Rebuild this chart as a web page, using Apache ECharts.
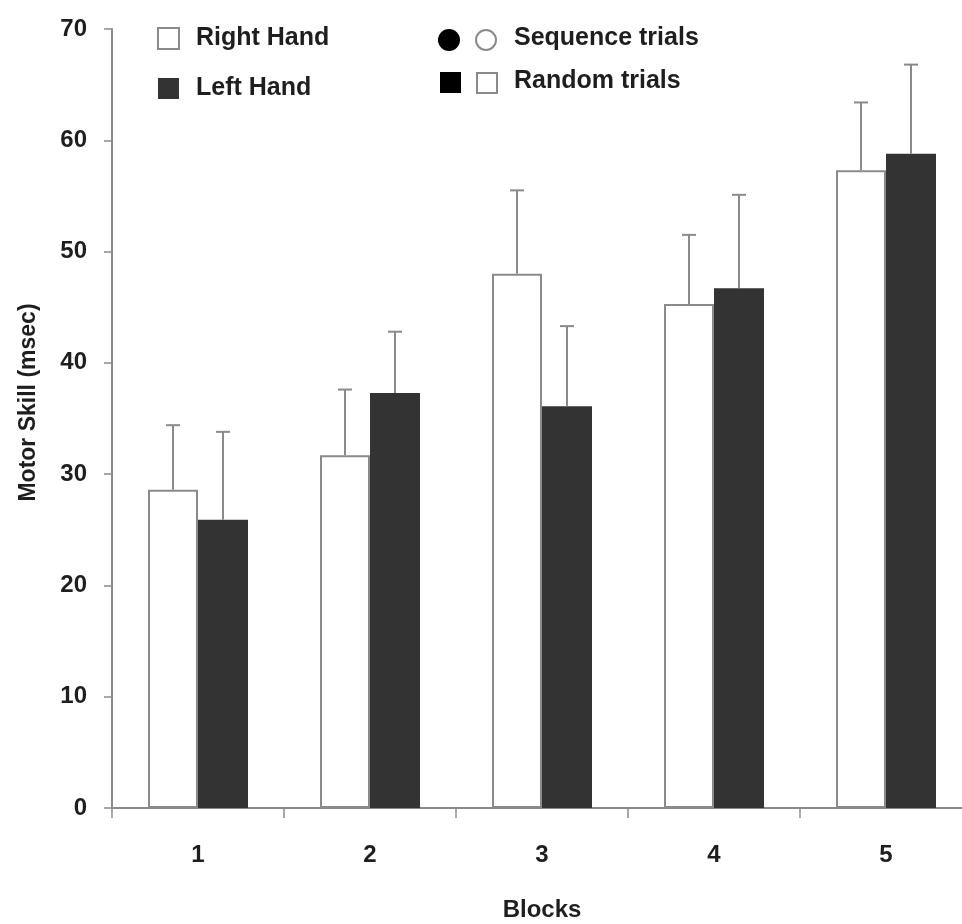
<!DOCTYPE html>
<html>
<head>
<meta charset="utf-8">
<script src="https://cdn.jsdelivr.net/npm/echarts@6/dist/echarts.min.js"></script>
<style>html,body{margin:0;padding:0;background:#fff}#c{width:962px;height:924px}</style>
</head>
<body>
<div id="c"></div>
<script>
const categories = ['1', '2', '3', '4', '5'];
const rightHand = [28.6, 31.7, 48.0, 45.3, 57.3];
const rightHandUpper = [34.4, 37.6, 55.5, 51.5, 63.4];
const leftHand = [25.9, 37.3, 36.1, 46.7, 58.8];
const leftHandUpper = [33.8, 42.8, 43.3, 55.1, 66.8];
const yTicks = [0, 10, 20, 30, 40, 50, 60, 70];

const FONT = "'Liberation Sans', Arial, sans-serif";
const TXT = '#1e1e1e';
const GRAY = '#8a8a8a';
const BAR_W = 50;

const chart = echarts.init(document.getElementById('c'), null, {renderer: 'canvas'});

function errSeries(name, means, uppers, side) {
  return {
    type: 'custom',
    name: name + ' err',
    z: 5,
    silent: true,
    data: means.map((m, i) => [i, m, uppers[i]]),
    renderItem: function (params, api) {
      const c = api.coord([api.value(0), api.value(1)]);
      const u = api.coord([api.value(0), api.value(2)]);
      const x = c[0] + side * BAR_W / 2;
      const cap = 7;
      const style = {stroke: GRAY, lineWidth: 2, fill: null};
      return {
        type: 'group',
        children: [
          {type: 'line', shape: {x1: x, y1: c[1], x2: x, y2: u[1]}, style: style},
          {type: 'line', shape: {x1: x - cap, y1: u[1], x2: x + cap, y2: u[1]}, style: style}
        ]
      };
    }
  };
}

const option = {
  backgroundColor: '#ffffff',
  animation: false,
  textStyle: {fontFamily: FONT},
  grid: {left: 112, width: 860, top: 29, bottom: 116, containLabel: false, outerBoundsMode: 'none'},
  legend: {
    data: [{name: 'Right Hand', icon: 'rect'}, {name: 'Left Hand', icon: 'rect'}],
    orient: 'vertical',
    left: 152,
    top: 21,
    itemWidth: 21,
    itemHeight: 21,
    itemGap: 25,
    selectedMode: false,
    textStyle: {fontFamily: FONT, fontSize: 25, fontWeight: 'bold', color: TXT, padding: [0, 0, 0, 12], lineHeight: 22}
  },
  xAxis: {
    type: 'category',
    data: categories,
    name: 'Blocks',
    nameLocation: 'middle',
    nameGap: 90,
    nameTextStyle: {fontFamily: FONT, fontSize: 24, fontWeight: 'bold', color: TXT},
    axisLine: {lineStyle: {color: GRAY, width: 2}},
    axisTick: {show: true, length: 10, lineStyle: {color: GRAY, width: 1.5}},
    axisLabel: {fontFamily: FONT, fontSize: 24, fontWeight: 'bold', color: TXT, margin: 35},
    splitLine: {show: false}
  },
  yAxis: {
    type: 'value',
    min: 0,
    max: 70,
    interval: 10,
    name: 'Motor Skill (msec)',
    nameLocation: 'middle',
    nameRotate: 90,
    nameGap: 72,
    nameTextStyle: {fontFamily: FONT, fontSize: 23, fontWeight: 'bold', color: TXT, padding: [0, 0, 0, 32]},
    axisLine: {show: true, lineStyle: {color: GRAY, width: 2}},
    axisTick: {show: true, length: 8, lineStyle: {color: GRAY, width: 1.5}},
    axisLabel: {fontFamily: FONT, fontSize: 24, fontWeight: 'bold', color: TXT, margin: 25,
      formatter: v => (yTicks.indexOf(v) >= 0 ? String(v) : '')},
    splitLine: {show: false}
  },
  series: [
    {
      name: 'Right Hand',
      type: 'bar',
      data: rightHand,
      barWidth: BAR_W,
      barGap: '0%',
      itemStyle: {color: '#ffffff', borderColor: GRAY, borderWidth: 2}
    },
    {
      name: 'Left Hand',
      type: 'bar',
      data: leftHand,
      barWidth: BAR_W,
      barGap: '0%',
      itemStyle: {color: '#333333', borderColor: '#333333', borderWidth: 0}
    },
    errSeries('Right Hand', rightHand, rightHandUpper, -1),
    errSeries('Left Hand', leftHand, leftHandUpper, 1)
  ],
  graphic: [
    {type: 'circle', shape: {cx: 449, cy: 40, r: 11}, style: {fill: '#000'}},
    {type: 'circle', shape: {cx: 486, cy: 40, r: 10}, style: {fill: '#fff', stroke: GRAY, lineWidth: 2}},
    {type: 'text', left: 514, top: 26, style: {text: 'Sequence trials', font: "bold 25px 'Liberation Sans', Arial, sans-serif", fill: TXT}},
    {type: 'rect', shape: {x: 440, y: 72, width: 21, height: 21}, style: {fill: '#000'}},
    {type: 'rect', shape: {x: 477, y: 73, width: 20, height: 20}, style: {fill: '#fff', stroke: GRAY, lineWidth: 2}},
    {type: 'text', left: 514, top: 69, style: {text: 'Random trials', font: "bold 25px 'Liberation Sans', Arial, sans-serif", fill: TXT}}
  ]
};
chart.setOption(option);
</script>
</body>
</html>
